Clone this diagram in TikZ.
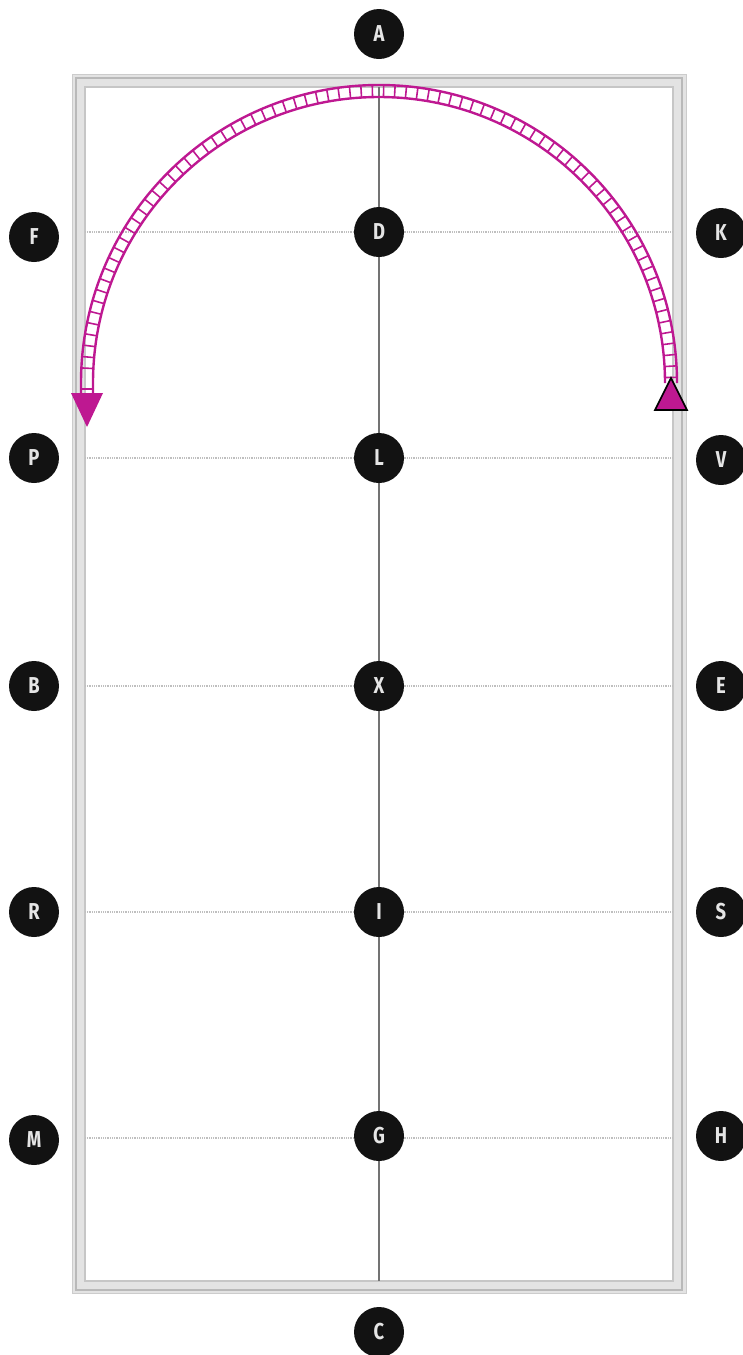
\documentclass[tikz,border=0pt]{standalone}
\usepackage{fontspec}
\usetikzlibrary{calc}
\newfontfamily\lblfont{Fira Sans}[FakeStretch=0.8]
\definecolor{mag}{RGB}{190,24,145}
\begin{document}
\begin{tikzpicture}[x=1pt,y=-1pt,
  lbl/.style={circle,fill=black!93,minimum size=50pt,inner sep=0pt,text=white!90!black,font=\lblfont\bfseries\fontsize{23}{23}\selectfont},
  gridline/.style={gray!50,line width=2.2pt,dash pattern=on 1pt off 0.8pt},
  midline/.style={black!55,line width=1.3pt},
  rail/.style={mag,line width=2.4pt},
  rung/.style={mag,line width=1.6pt}]
\useasboundingbox (0,0) rectangle (743,1355);
% border
\draw[gray!22,line width=13pt] (78.5,80.5) rectangle (679.5,1287);
\draw[gray!55,line width=2.5pt] (76,78) rectangle (682,1290);
\draw[gray!40,line width=1pt] (72,74) rectangle (686,1293);
\draw[gray!45,line width=1.2pt] (85,87) rectangle (673,1281);
% grid coordinates
\coordinate (top) at (379,87);
\coordinate (bot) at (379,1281);
\foreach \n/\y in {d/232,l/458,x/686,i/912,g/1138}{
  \coordinate (\n w) at (85,\y);
  \coordinate (\n e) at (673,\y);
  \draw[gridline] (\n w) -- (\n e);
}
\draw[midline] (top) -- (bot);
% ladder arc
\coordinate (ctr) at (379,383);
\foreach \a in {-1.1,-3.3,...,-179}{
  \draw[rung] ($(ctr)+(\a:286)$) -- ($(ctr)+(\a:298)$);
}
\draw[rail] (665,383) arc[start angle=0,end angle=-180,radius=286] -- (93,395);
\draw[rail] (677,383) arc[start angle=0,end angle=-180,radius=298] -- (81,395);
\draw[rung] (81,389) -- (93,389);
% arrow heads
\coordinate (tipl) at (87,427);
\fill[mag] (tipl) -- (71,393) -- (103,393) -- cycle;
\coordinate (tipr) at (671,378);
\filldraw[fill=mag,draw=black,line width=1.6pt,line join=miter] (tipr) -- (655,410) -- (687,410) -- cycle;
% labels
\node[lbl] (A) at (379,34) {A};
\node[lbl] (D) at (379,232) {D};
\node[lbl] (L) at (379,458) {L};
\node[lbl] (X) at (379,686) {X};
\node[lbl] (I) at (379,912) {I};
\node[lbl] (G) at (379,1136) {G};
\node[lbl] (C) at (379,1332) {C};
\node[lbl] (F) at (34,237) {F};
\node[lbl] (P) at (34,458) {P};
\node[lbl] (B) at (34,686) {B};
\node[lbl] (R) at (34,912) {R};
\node[lbl] (M) at (34,1140) {M};
\node[lbl] (K) at (721,233) {K};
\node[lbl] (V) at (721,460) {V};
\node[lbl] (E) at (721,686) {E};
\node[lbl] (S) at (721,912) {S};
\node[lbl] (H) at (721,1136) {H};
\end{tikzpicture}
\end{document}
